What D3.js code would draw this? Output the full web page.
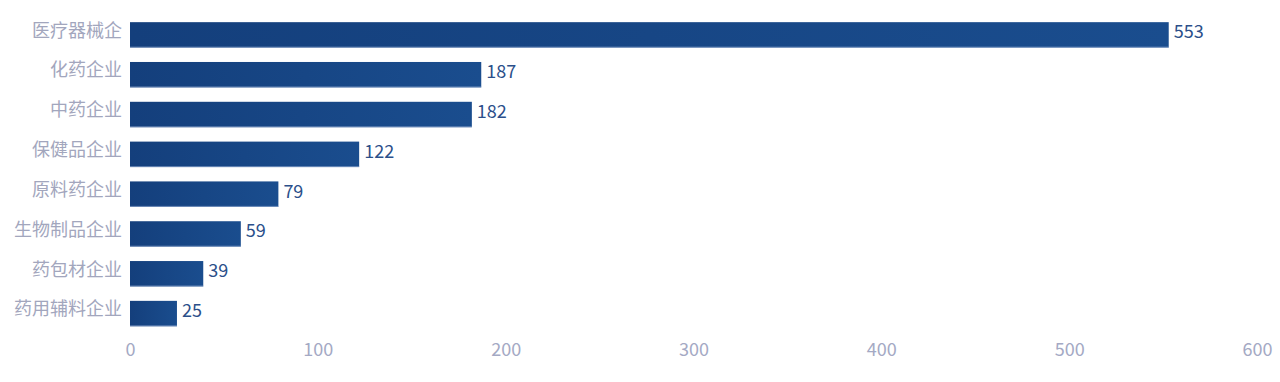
<!DOCTYPE html>
<html>
<head>
    <meta charset="utf-8">
    <script src="https://cdnjs.cloudflare.com/ajax/libs/d3/7.8.5/d3.min.js"></script>
    <style>
        body {
            margin: 0;
            background: #ffffff;
            overflow: hidden;
        }
        svg text {
            font-family: "Noto Sans CJK SC", "Noto Sans", sans-serif;
        }
    </style>
</head>
<body>
    <svg id="chart"></svg>

    <script>
        // categories top to bottom
        const categories = ["医疗器械企", "化药企业", "中药企业", "保健品企业", "原料药企业", "生物制品企业", "药包材企业", "药用辅料企业"];
        const values = [553, 187, 182, 122, 79, 59, 39, 25];
        const xTicks = [0, 100, 200, 300, 400, 500, 600];

        const width = 1280;
        const height = 382;

        const svg = d3.select("#chart")
            .attr("width", width)
            .attr("height", height);

        const x = d3.scaleLinear()
            .domain([0, 600])
            .range([130, 1257]);

        const y = d3.scaleBand()
            .domain(categories)
            .range([15, 333.5])
            .paddingInner(0.36)
            .paddingOuter(0.18);

        // bar gradient, darker on the left
        const defs = svg.append("defs");
        const grad = defs.append("linearGradient")
            .attr("id", "barGrad")
            .attr("x1", "0%").attr("x2", "100%")
            .attr("y1", "0%").attr("y2", "0%");
        grad.append("stop").attr("offset", "0%").attr("stop-color", "#143f7c");
        grad.append("stop").attr("offset", "100%").attr("stop-color", "#1a4d8e");

        // bars
        svg.append("g")
            .selectAll("rect")
            .data(values)
            .enter().append("rect")
            .attr("x", x(0))
            .attr("y", (d, i) => y(categories[i]))
            .attr("width", d => x(d) - x(0))
            .attr("height", y.bandwidth())
            .attr("fill", "url(#barGrad)");

        // faint light line under each bar
        svg.append("g")
            .selectAll("line")
            .data(values)
            .enter().append("line")
            .attr("x1", x(0))
            .attr("x2", d => x(d))
            .attr("y1", (d, i) => y(categories[i]) + y.bandwidth() - 0.5)
            .attr("y2", (d, i) => y(categories[i]) + y.bandwidth() - 0.5)
            .attr("stroke", "#9db3d6")
            .attr("stroke-opacity", 0.6)
            .attr("stroke-width", 1);

        // value labels
        svg.append("g")
            .selectAll("text")
            .data(values)
            .enter().append("text")
            .attr("x", d => x(d) + 5)
            .attr("y", (d, i) => y(categories[i]) + y.bandwidth() / 2 - 4.5)
            .attr("dominant-baseline", "central")
            .attr("fill", "#2b4f8a")
            .style("font-size", "18px")
            .text(d => d);

        // category axis
        const yAxis = svg.append("g")
            .attr("transform", `translate(${x(0)},-4)`)
            .call(d3.axisLeft(y).tickSize(0).tickPadding(8));
        yAxis.select(".domain").remove();
        yAxis.selectAll("text")
            .attr("fill", "#a2a6bd")
            .style("font-size", "18px");

        // value axis
        const xAxis = svg.append("g")
            .attr("transform", "translate(0,340)")
            .call(d3.axisBottom(x).tickValues(xTicks).tickSize(0).tickPadding(3));
        xAxis.select(".domain").remove();
        xAxis.selectAll("text")
            .attr("fill", "#a4a9c4")
            .style("font-size", "18px");
    </script>
</body>
</html>
